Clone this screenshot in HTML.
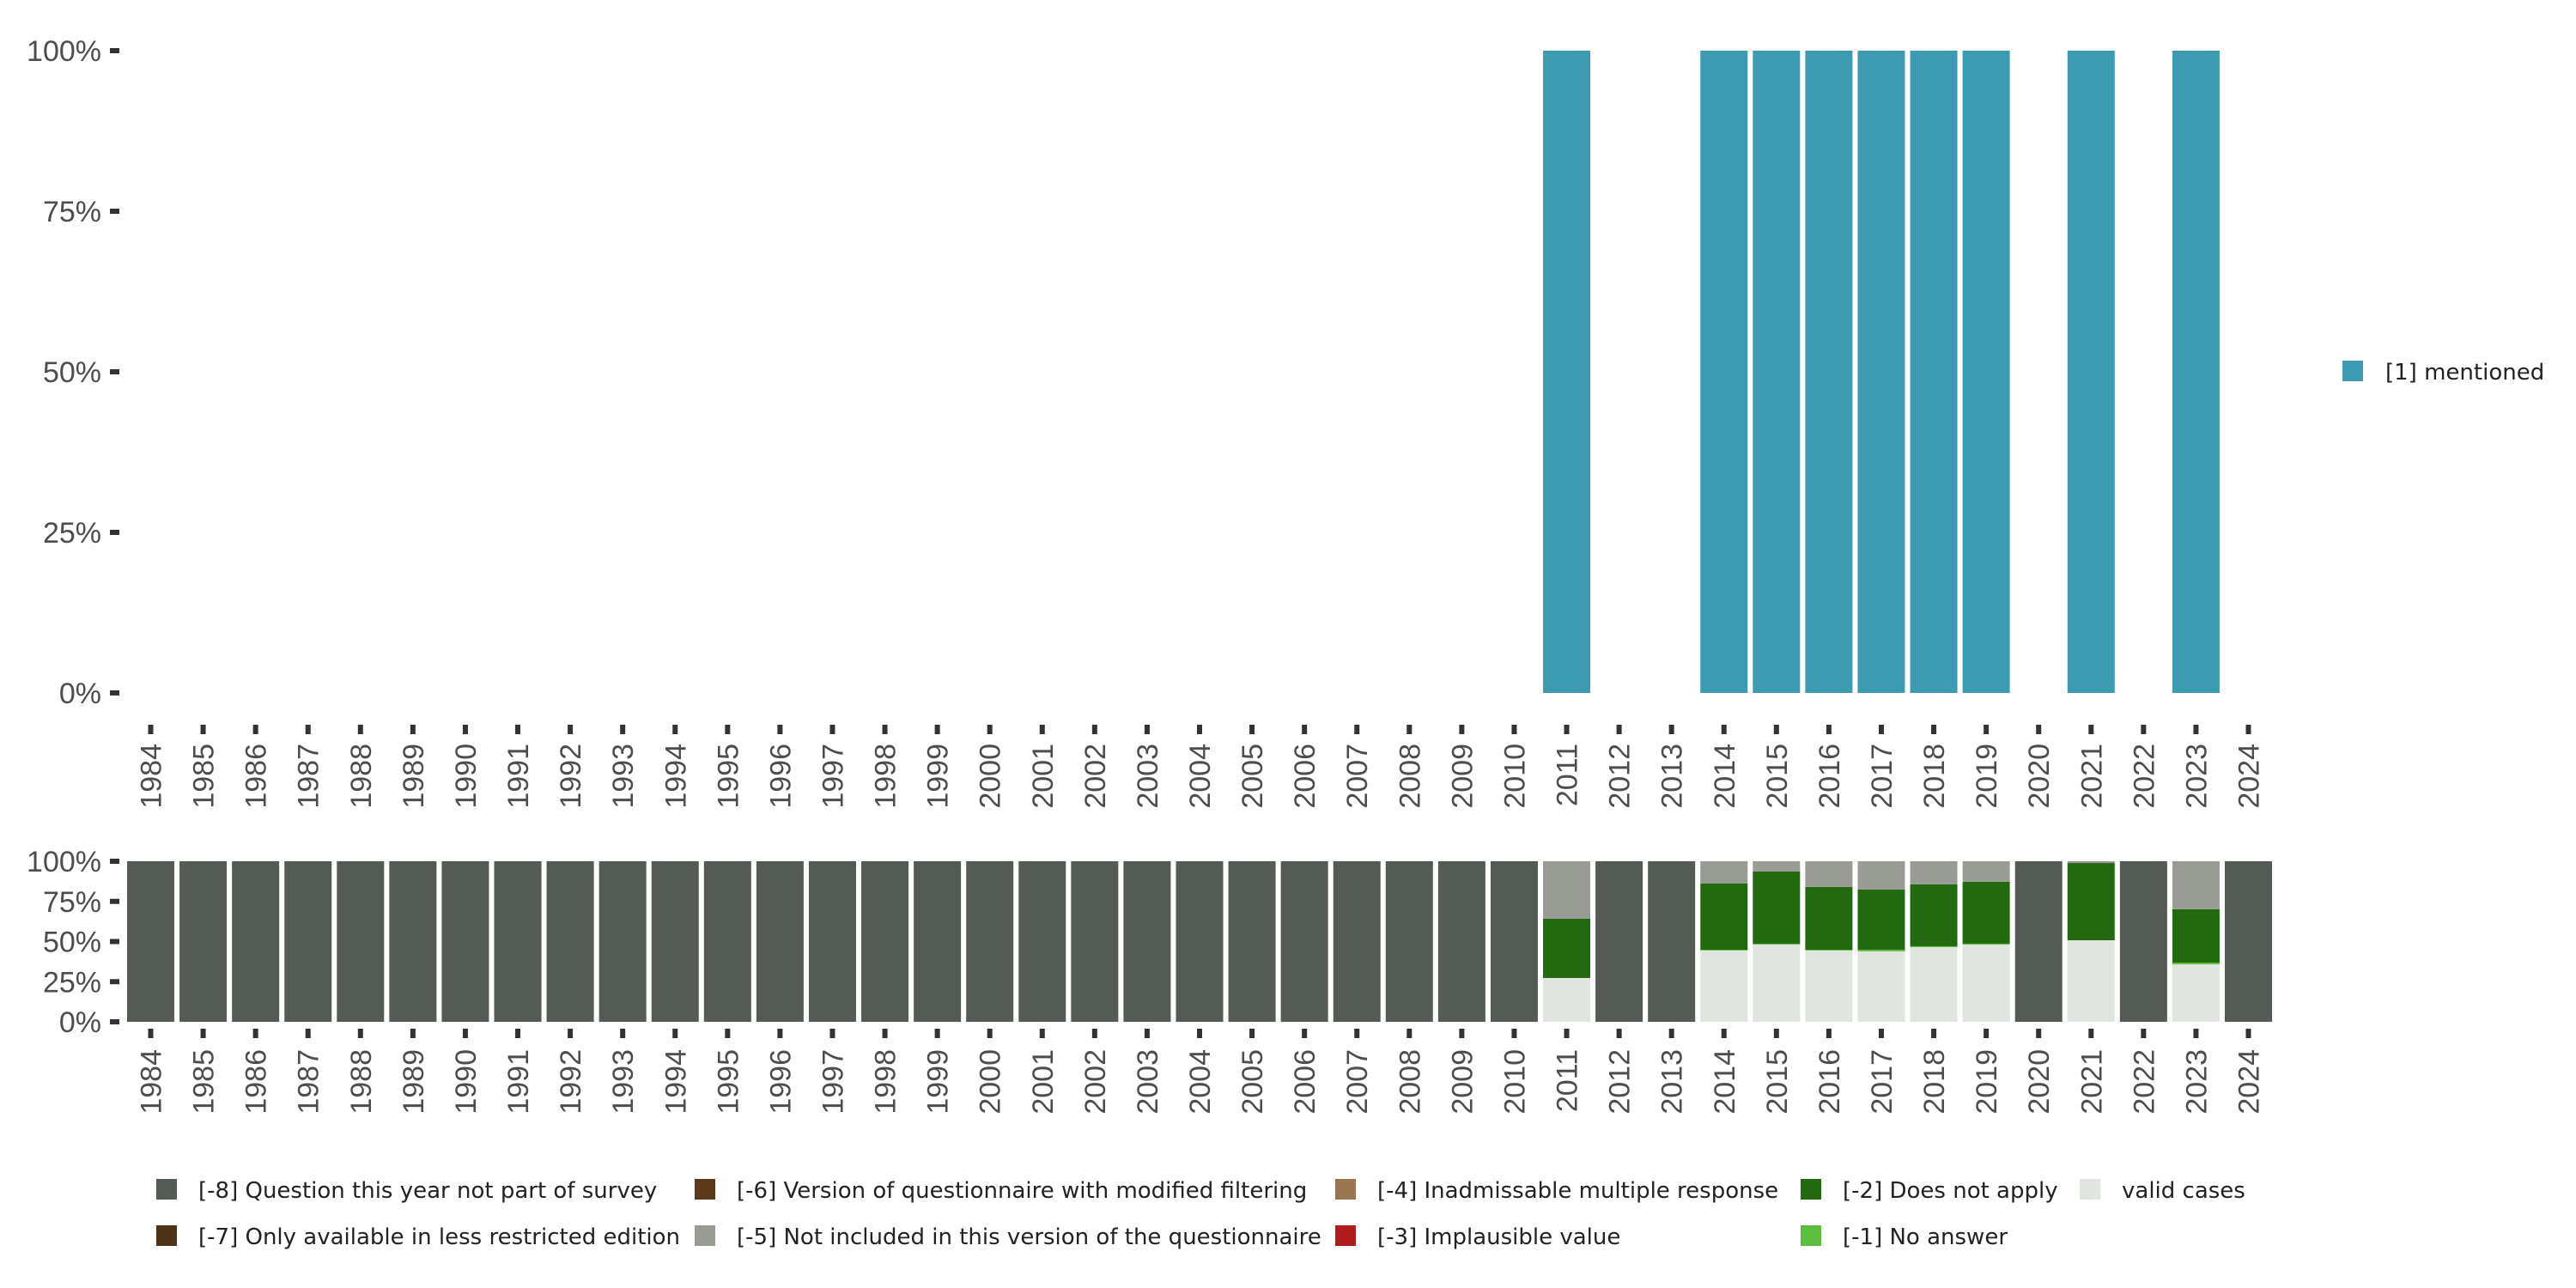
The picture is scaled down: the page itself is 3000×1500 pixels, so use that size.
<!DOCTYPE html>
<html><head><meta charset="utf-8"><style>
html,body{margin:0;padding:0;background:#fff}
svg{display:block;font-family:"Liberation Sans","DejaVu Sans",sans-serif}
</style></head><body>
<svg id="chart" width="3000" height="1500" viewBox="0 0 3000 1500" xmlns="http://www.w3.org/2000/svg">
<g id="topG"></g>
<g id="bot"></g>
<g id="legTop"></g>
<g id="legBot"></g>
</svg>
<script>
const years = [1984,1985,1986,1987,1988,1989,1990,1991,1992,1993,1994,1995,1996,1997,1998,1999,2000,2001,2002,2003,2004,2005,2006,2007,2008,2009,2010,2011,2012,2013,2014,2015,2016,2017,2018,2019,2020,2021,2022,2023,2024];
const mentionedYears = [2011,2014,2015,2016,2017,2018,2019,2021,2023];
const mentionedValues = [100,100,100,100,100,100,100,100,100];
const yTicks = [0,25,50,75,100];
const yTickLabels = ["0%","25%","50%","75%","100%"];
const dataYears = [2011,2014,2015,2016,2017,2018,2019,2021,2023];
const validShare = [27.3,44.4,48.1,44.4,43.9,46.5,48.1,50.8,35.8];
const noAnswerShare = [0,0.5,0.5,0.5,1.0,0.6,0.6,0,1.1];
const notApplyShare = [36.9,41.2,45.0,39.1,37.5,38.5,38.5,48.1,33.2];
const notIncludedShare = [35.8,13.9,6.4,16.0,17.6,14.4,12.8,1.1,29.9];
const catColors = ["#e1e5e0","#5dbd3f","#22690f","#999c95","#545b54"];

const NS="http://www.w3.org/2000/svg";
function mk(tag,attrs,parent){const e=document.createElementNS(NS,tag);for(const k in attrs)e.setAttribute(k,attrs[k]);parent.appendChild(e);return e;}
const x0=175.5, step=61.075, bw=55;
const xs = y => x0 + (y-1984)*step;
const yTop = v => 807 - v/100*(807-59);
const yBot = v => 1190 - v/100*(1190-1003);

function axes(g, yf, tickTop, labelTop){
  yTicks.forEach((t,i)=>{
    const tk=mk('rect',{x:128,y:yf(t)-3,width:11,height:6,fill:'#333'},g);
    
    
    const tx=mk('text',{x:118,y:yf(t)+12,'text-anchor':'end','font-size':34,fill:'#4d4d4d'},g);
    tx.textContent=yTickLabels[i];
    
    
  });
  years.forEach(yr=>{
    const cx=xs(yr);
    const tk=mk('rect',{x:cx-3,y:tickTop,width:6,height:11,fill:'#333'},g);
    
    
    const tx=mk('text',{transform:`translate(${cx+12},${labelTop}) rotate(-90)`,'text-anchor':'end','font-size':34,fill:'#4d4d4d'},g);
    tx.textContent=yr;
    
    
  });
}
const topG=document.getElementById('topG');
mentionedYears.forEach((yr,i)=>{
  const r=mk('rect',{x:xs(yr)-bw/2,y:yTop(mentionedValues[i]),width:bw,height:yTop(0)-yTop(mentionedValues[i]),fill:'#3c9ab1'},topG);
  
  
});
axes(topG,yTop,844,866);

const bot=document.getElementById('bot');
years.forEach(yr=>{
  const idx=dataYears.indexOf(yr);
  let vals = idx<0 ? [0,0,0,0,100] : [validShare[idx],noAnswerShare[idx],notApplyShare[idx],notIncludedShare[idx],0];
  let acc=0;
  vals.forEach((v,k)=>{
    if(v<=0) return;
    const r=mk('rect',{x:xs(yr)-bw/2,y:yBot(acc+v),width:bw,height:yBot(acc)-yBot(acc+v),fill:catColors[k]},bot);
    
    
    acc+=v;
  });
});
axes(bot,yBot,1198,1222);

const lt=document.getElementById('legTop');
const lr=mk('rect',{x:2728,y:420,width:24,height:24,fill:'#3c9ab1'},lt);


const ltx=mk('text',{x:2778,y:442,'font-size':26,fill:'#222','font-family':'"DejaVu Sans",sans-serif'},lt);
ltx.textContent='[1] mentioned';



const legItems=[
 ["[-8] Question this year not part of survey","#545b54",182,1385],
 ["[-7] Only available in less restricted edition","#4e3218",182,1439],
 ["[-6] Version of questionnaire with modified filtering","#5a3a1a",809,1385],
 ["[-5] Not included in this version of the questionnaire","#999c95",809,1439],
 ["[-4] Inadmissable multiple response","#9a7650",1555,1385],
 ["[-3] Implausible value","#b01c1c",1555,1439],
 ["[-2] Does not apply","#22690f",2097,1385],
 ["[-1] No answer","#5dbd3f",2097,1439],
 ["valid cases","#e1e5e0",2422,1385]
];
const lb=document.getElementById('legBot');
legItems.forEach(it=>{
  const t=mk('text',{x:it[2]+49,y:it[3]+10,'font-size':26,fill:'#222','font-family':'"DejaVu Sans",sans-serif'},lb);
  t.textContent=it[0];
  
  
  const r=mk('rect',{x:it[2],y:it[3]-12,width:24,height:24,fill:it[1]},lb);
  
  
});
</script>
</body></html>
